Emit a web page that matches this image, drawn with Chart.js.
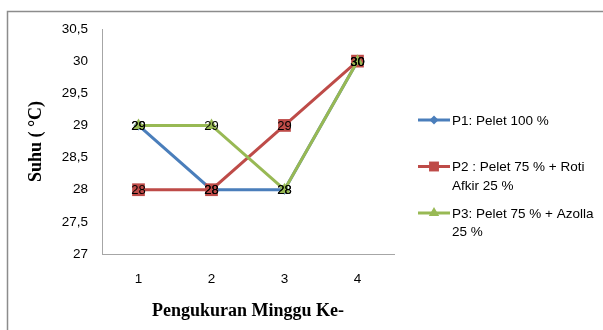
<!DOCTYPE html>
<html>
<head>
<meta charset="utf-8">
<script src="https://cdn.jsdelivr.net/npm/chart.js@4.4.1/dist/chart.umd.min.js"></script>
<style>
  html, body { margin: 0; padding: 0; background: #ffffff; }
  #wrap { width: 603px; height: 330px; position: relative; }
</style>
</head>
<body>
<div id="wrap"><canvas id="chart" width="603" height="330"></canvas></div>
<script>
// Weekly water temperature (°C) per feed treatment
const weeks = ['1', '2', '3', '4'];
const p1Values = [29, 28, 28, 30];
const p2Values = [28, 28, 29, 30];
const p3Values = [29, 29, 28, 30];
const seriesLabels = [
  ['P1: Pelet 100 %'],
  ['P2 : Pelet 75 % + Roti', 'Afkir 25 %'],
  ['P3: Pelet 75 % + Azolla', '25 %']
];
const yMin = 27;
const yMax = 30.5;
const yStep = 0.5;
const xTitle = 'Pengukuran Minggu Ke-';
const yTitle = 'Suhu ( °C)';

const BODY_FONT = 'Liberation Sans, Arial, sans-serif';
const TITLE_FONT = 'Liberation Serif, Times New Roman, serif';
const AXIS_GRAY = '#a6a6a6';

const seriesStyles = [
  { color: '#4A7EBB', pointStyle: 'rectRot', radius: 5, legendRadius: 4.5, order: 3 },
  { color: '#BE4B48', pointStyle: 'rect', radius: 9, legendRadius: 7, order: 2 },
  { color: '#98B954', pointStyle: 'triangle', radius: 7, legendRadius: 6, order: 1 }
];
const seriesData = [p1Values, p2Values, p3Values];

const datasets = seriesData.map((values, i) => ({
  label: seriesLabels[i].join(' '),
  data: values,
  borderColor: seriesStyles[i].color,
  backgroundColor: seriesStyles[i].color,
  pointBackgroundColor: seriesStyles[i].color,
  pointBorderColor: seriesStyles[i].color,
  borderWidth: 3,
  pointStyle: seriesStyles[i].pointStyle,
  pointRadius: seriesStyles[i].radius,
  pointHoverRadius: seriesStyles[i].radius,
  pointBorderWidth: 0,
  tension: 0,
  order: seriesStyles[i].order
}));

// Outer frame of the chart object
const framePlugin = {
  id: 'frame',
  beforeDraw(chart) {
    const ctx = chart.ctx;
    ctx.save();
    ctx.fillStyle = '#ffffff';
    ctx.fillRect(0, 0, chart.width, chart.height);
    ctx.strokeStyle = '#8c8c8c';
    ctx.lineWidth = 1.5;
    ctx.strokeRect(7.5, 11.5, chart.width + 20, chart.height + 20);
    ctx.restore();
  }
};

// Value labels written over each marker
const valueLabelPlugin = {
  id: 'valueLabels',
  afterDatasetsDraw(chart) {
    const ctx = chart.ctx;
    ctx.save();
    ctx.font = '13px ' + BODY_FONT;
    ctx.fillStyle = '#000000';
    ctx.textAlign = 'center';
    ctx.textBaseline = 'middle';
    chart.data.datasets.forEach((ds, di) => {
      const meta = chart.getDatasetMeta(di);
      meta.data.forEach((pt, idx) => {
        ctx.fillText(String(ds.data[idx]), pt.x, pt.y + 1);
      });
    });
    ctx.restore();
  }
};

// Legend on the right with line + marker samples and wrapped labels
const sideLegendPlugin = {
  id: 'sideLegend',
  afterDraw(chart) {
    const ctx = chart.ctx;
    const area = chart.chartArea;
    const x0 = area.right + 24;
    const lineLen = 32;
    const firstY = 120;
    const gap = 46.5;
    const lineHeight = 18.5;
    ctx.save();
    ctx.font = '13.5px ' + BODY_FONT;
    ctx.textAlign = 'left';
    ctx.textBaseline = 'middle';
    chart.data.datasets.forEach((ds, i) => {
      const y = firstY + i * gap;
      ctx.strokeStyle = ds.borderColor;
      ctx.lineWidth = 3;
      ctx.beginPath();
      ctx.moveTo(x0, y);
      ctx.lineTo(x0 + lineLen, y);
      ctx.stroke();
      ctx.fillStyle = ds.pointBackgroundColor;
      ctx.strokeStyle = ds.pointBackgroundColor;
      Chart.helpers.drawPoint(ctx, {
        pointStyle: ds.pointStyle,
        radius: seriesStyles[i].legendRadius,
        rotation: 0,
        borderWidth: 0
      }, x0 + lineLen / 2, y);
      ctx.fillStyle = '#000000';
      seriesLabels[i].forEach((line, li) => {
        ctx.fillText(line, x0 + lineLen + 2, y + li * lineHeight + 1);
      });
    });
    ctx.restore();
  }
};

new Chart(document.getElementById('chart'), {
  type: 'line',
  data: { labels: weeks, datasets },
  plugins: [framePlugin, valueLabelPlugin, sideLegendPlugin],
  options: {
    responsive: false,
    devicePixelRatio: 1,
    animation: false,
    layout: { padding: { top: 29, right: 209, left: 0, bottom: 0 } },
    plugins: {
      legend: { display: false },
      tooltip: { enabled: false }
    },
    scales: {
      x: {
        type: 'category',
        offset: true,
        grid: { display: false, drawTicks: false },
        border: { display: true, color: AXIS_GRAY, width: 1 },
        ticks: { color: '#000000', padding: 17, font: { family: BODY_FONT, size: 13.5 } },
        title: {
          display: true,
          text: xTitle,
          color: '#000000',
          font: { family: TITLE_FONT, size: 18, weight: 'bold' },
          padding: { top: 0, bottom: 8 }
        },
        afterFit(scale) { scale.height = 76; }
      },
      y: {
        type: 'linear',
        min: yMin,
        max: yMax,
        grid: { display: false, drawTicks: false },
        border: { display: true, color: AXIS_GRAY, width: 1 },
        ticks: {
          stepSize: yStep,
          color: '#000000',
          padding: 14,
          font: { family: BODY_FONT, size: 13.5 },
          callback: (v) => String(v).replace('.', ',')
        },
        title: {
          display: true,
          text: yTitle,
          color: '#000000',
          font: { family: TITLE_FONT, size: 18, weight: 'bold' },
          padding: { top: 26, bottom: 0 }
        },
        afterFit(scale) { scale.width = 102; }
      }
    }
  }
});
</script>
</body>
</html>
